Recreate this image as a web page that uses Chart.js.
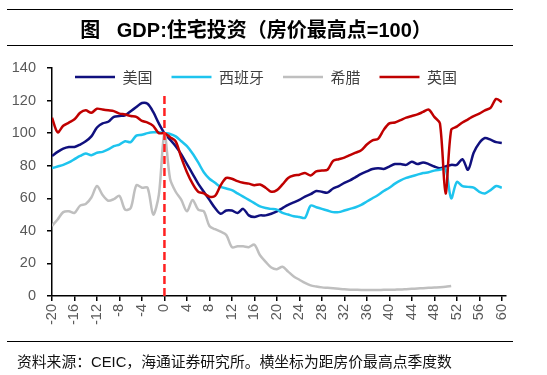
<!DOCTYPE html>
<html>
<head>
<meta charset="utf-8">
<script src="https://cdn.jsdelivr.net/npm/chart.js@4"></script>
<style>
  body { margin: 0; background: #fff; width: 547px; height: 375px; overflow: hidden; position: relative; }
  #chart { position: absolute; left: 0; top: 0; }
  .rule { position: absolute; left: 7px; width: 506px; height: 0; border-top: 1px solid #000; }
  #title { position: absolute; left: 7px; width: 498px; top: 14px; text-align: center;
           font: bold 20px "Liberation Sans", "Noto Sans CJK SC", sans-serif; color: #000; white-space: pre; }
  #source { position: absolute; left: 17px; top: 350px; font: 14.8px "Liberation Sans", "Noto Sans CJK SC", sans-serif;
            color: #111; white-space: nowrap; }
</style>
</head>
<body>
<canvas id="chart" width="547" height="375"></canvas>
<div class="rule" style="top:9px"></div>
<div id="title">图   GDP:住宅投资（房价最高点=100）</div>
<div class="rule" style="top:45px"></div>
<div class="rule" style="top:341px"></div>
<div id="source">资料来源：CEIC，海通证券研究所。横坐标为距房价最高点季度数</div>
<script>
// quarters relative to house price peak
const quarters = [-20, -19, -18, -17, -16, -15, -14, -13, -12, -11, -10, -9, -8, -7, -6, -5, -4, -3, -2, -1,
  0, 1, 2, 3, 4, 5, 6, 7, 8, 9, 10, 11, 12, 13, 14, 15, 16, 17, 18, 19, 20,
  21, 22, 23, 24, 25, 26, 27, 28, 29, 30, 31, 32, 33, 34, 35, 36, 37, 38, 39, 40,
  41, 42, 43, 44, 45, 46, 47, 48, 49, 50, 51, 52, 53, 54, 55, 56, 57, 58, 59, 60];

const usa = [86, 88.5, 90.5, 91.5, 91.5, 93, 95, 98, 103.5, 106, 107, 110, 110.5, 111, 113.5, 116, 118.5, 118, 113, 106,
  100, 96, 92, 87, 81, 75, 69, 64, 59, 54, 50.5,
  52.5, 52.5, 51, 53.5, 49.5, 48.5, 49.5, 49.5, 50.5, 52,
  54, 56, 57.5, 59, 61, 62.5, 64.5, 64, 63.5, 66,
  67.5, 69.5, 71, 73, 75, 76.5, 78, 78.5, 78, 79.5,
  81, 81, 80.5, 82.5, 81, 82, 81, 79.5, 78.5, 79.5,
  80.5, 80.5, 84, 77.5, 88, 94, 97, 96, 94.5, 94];

const spain = [78.5, 79.5, 80.5, 82, 84, 86, 87.5, 86.5, 88, 88.5, 90, 92, 93, 95, 94.5, 98.5, 99, 100, 100.5, 100.5,
  100, 99.5, 98, 95, 92, 87.5, 82, 76, 72, 69.5, 67,
  66, 65, 63, 61, 59, 57, 55, 54, 53.5, 53,
  51, 50, 49, 48.5, 48, 55.5, 54.5, 53.5, 52.5, 51.5,
  51.5, 52.5, 53.5, 54.5, 56, 58, 60, 62, 64.5, 66.5,
  69, 71, 72.5, 73.5, 74.5, 75.5, 76, 77, 77.5, 78,
  60, 70, 67.5, 67, 66.5, 64, 63, 65, 67.5, 66.5];

const greece = [43, 47, 51.5, 52, 51, 55.5, 56.5, 60.5, 67.5, 62, 58.5, 59.5, 61.5, 53, 54, 68, 66.5, 66.5, 50, 62,
  100, 72, 64, 59, 52, 59, 53, 52, 43, 41, 39.5,
  37.5, 30, 30.5, 30.5, 30, 31.5, 25, 21, 17.5, 16.5,
  18, 15, 12, 10, 8, 6.5, 5.8, 5.3, 5, 4.7,
  4.4, 4.1, 3.9, 3.8, 3.7, 3.7, 3.7, 3.7, 3.8, 3.8,
  3.9, 4, 4.2, 4.4, 4.6, 4.8, 5, 5.2, 5.4, 5.7,
  6.2, null, null, null, null, null, null, null, null, null];

const uk = [109.5, 100.5, 104.5, 106.5, 108.5, 112.5, 114, 112.5, 115, 114.5, 114, 113.5, 112, 111.5, 110.5, 110, 107.5, 106.5, 104.5, 100,
  100, 97.5, 95, 85, 76, 69, 64, 63, 61, 61.5, 68,
  72.5, 72, 70.5, 69.5, 69, 68, 68.5, 66.5, 64, 65,
  68.5, 72.5, 74, 74.5, 75.5, 74, 76.5, 77, 77.5, 83,
  84, 85, 86.5, 88, 89.5, 93, 95.5, 96.5, 102, 106,
  106.5, 108, 109.5, 110.5, 111.5, 113, 114.5, 110, 106, 63,
  102, 104, 106.5, 108.5, 110.5, 112, 114, 115.5, 121, 119];

const peakLine = [{x: 0, y: 0}, {x: 0, y: 125}];

const xTicks = [-20, -16, -12, -8, -4, 0, 4, 8, 12, 16, 20, 24, 28, 32, 36, 40, 44, 48, 52, 56, 60];
const yTicks = [0, 20, 40, 60, 80, 100, 120, 140];

// legend reserves ~no space; move it inside the top of the plot
const legendInside = {
  id: 'legendInside',
  afterLayout(chart) {
    const l = chart.legend;
    const a = chart.chartArea;
    l.left = a.left + 4;
    l.right = a.right + 4;
    l.top = a.top - 17.5;
    l.bottom = l.top + 50;
  }
};

function line(label, data, color, order) {
  return {
    label: label,
    data: data,
    borderColor: color,
    backgroundColor: color,
    borderWidth: 2.5,
    pointRadius: 0,
    tension: 0.3,
    order: order
  };
}

const ctx = document.getElementById('chart').getContext('2d');
const myChart = new Chart(ctx, {
  type: 'line',
  data: {
    labels: quarters,
    datasets: [
      line('美国', usa, '#10107E', 4),
      line('西班牙', spain, '#1EC4EE', 3),
      line('希腊', greece, '#BFBFBF', 2),
      line('英国', uk, '#C00000', 1),
      {
        label: '',
        data: peakLine,
        borderColor: '#FF2020',
        borderWidth: 2.5,
        borderDash: [8, 4],
        pointRadius: 0,
        order: 0
      }
    ]
  },
  options: {
    responsive: false,
    animation: false,
    layout: { padding: { left: 0, top: 67, right: 41, bottom: 0 } },
    plugins: {
      tooltip: { enabled: false },
      legend: {
        position: 'top',
        align: 'start',
        maxHeight: 1,
        labels: {
          boxWidth: 40,
          boxHeight: 0,
          padding: 19,
          color: '#404040',
          font: { size: 15, family: '"Noto Sans CJK SC", sans-serif' },
          filter: item => item.text !== '',
          sort: (a, b) => a.datasetIndex - b.datasetIndex
        }
      }
    },
    scales: {
      x: {
        type: 'linear',
        min: -20,
        max: 60.75,
        afterBuildTicks: s => { s.ticks = xTicks.map(v => ({ value: v })); },
        afterFit: s => { s.height = 79; },
        grid: { drawOnChartArea: false, drawTicks: true, tickLength: 5, color: '#000', lineWidth: 1.5 },
        border: { color: '#000', width: 1.5 },
        ticks: {
          autoSkip: false,
          minRotation: 90,
          maxRotation: 90,
          padding: 3,
          color: '#595959',
          font: { size: 14.5, family: '"Liberation Sans", sans-serif' }
        }
      },
      y: {
        min: 0,
        max: 140,
        afterBuildTicks: s => { s.ticks = yTicks.map(v => ({ value: v })); },
        afterFit: s => { s.width = 52; },
        grid: { drawOnChartArea: false, drawTicks: true, tickLength: 5, color: '#000', lineWidth: 1.5 },
        border: { color: '#000', width: 1.5 },
        ticks: {
          padding: 11,
          color: '#595959',
          font: { size: 14.5, family: '"Liberation Sans", sans-serif' }
        }
      }
    }
  },
  plugins: [legendInside]
});
</script>
</body>
</html>
